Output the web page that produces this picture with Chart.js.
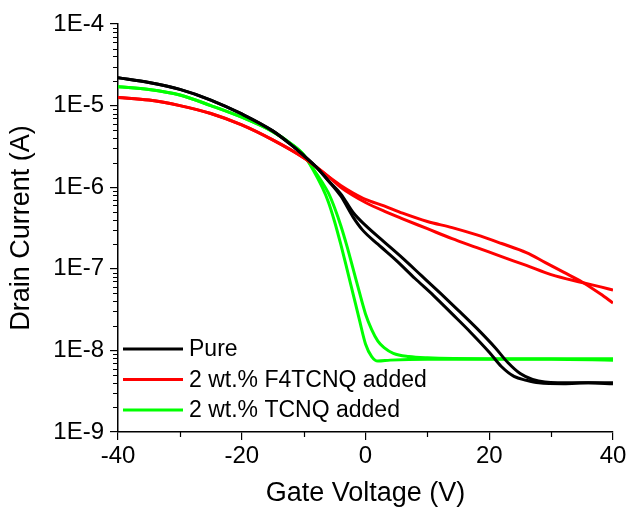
<!DOCTYPE html>
<html>
<head>
<meta charset="utf-8">
<script src="https://cdn.jsdelivr.net/npm/chart.js@4.4.0/dist/chart.umd.min.js"></script>
<style>
  body { margin: 0; background: #fff; }
  #wrap { width: 630px; height: 510px; }
</style>
</head>
<body>
<div id="wrap"><canvas id="ivChart" width="630" height="510"></canvas></div>
<script>
// transfer curves, two sweeps for each film
const pureV_a = [-40, -35, -30, -25, -20, -15, -12, -10, -8, -6, -4, -2, -0.5, 2, 5, 8, 11, 14, 17, 20, 22, 24, 26, 28, 32, 36, 40];
const pureI_a = [2.19e-5, 1.92e-5, 1.58e-5, 1.17e-5, 7.9e-6, 4.9e-6, 3.3e-6, 2.45e-6, 1.78e-6, 1.2e-6, 7.8e-7, 4.3e-7, 3.0e-7, 2.0e-7, 1.26e-7, 7.6e-8, 4.7e-8, 2.8e-8, 1.66e-8, 9.5e-9, 6.3e-9, 4.8e-9, 4.3e-9, 4.0e-9, 3.9e-9, 4.0e-9, 3.9e-9];
const pureV_b = [-40, -35, -30, -25, -20, -15, -12, -10, -8, -6, -4, -2, 0, 3, 6, 9, 12, 15, 18, 21, 23, 25, 27, 29, 34, 40];
const pureI_b = [2.19e-5, 1.92e-5, 1.58e-5, 1.17e-5, 7.9e-6, 4.9e-6, 3.3e-6, 2.45e-6, 1.78e-6, 1.2e-6, 8.3e-7, 4.9e-7, 3.4e-7, 2.14e-7, 1.35e-7, 8.3e-8, 5.1e-8, 3.1e-8, 1.86e-8, 1.07e-8, 7.1e-9, 5.2e-9, 4.4e-9, 4.1e-9, 4.0e-9, 4.0e-9];

const f4V_a = [-40, -35, -30, -25, -20, -15, -10, -8, -6, -4, -2, 0, 3, 6, 10, 14, 18, 22, 26, 29, 32, 35, 38, 40];
const f4I_a = [1.26e-5, 1.17e-5, 1.0e-5, 8.0e-6, 5.8e-6, 3.8e-6, 2.3e-6, 1.78e-6, 1.35e-6, 1.05e-6, 8.5e-7, 7.1e-7, 5.9e-7, 4.8e-7, 3.8e-7, 3.2e-7, 2.6e-7, 2.04e-7, 1.58e-7, 1.2e-7, 9.1e-8, 6.9e-8, 4.9e-8, 3.8e-8];
const f4V_b = [-40, -35, -30, -25, -20, -15, -10, -8, -6, -4, -2, 0, 3, 6, 10, 14, 18, 22, 26, 30, 35, 38, 40];
const f4I_b = [1.26e-5, 1.17e-5, 1.0e-5, 8.0e-6, 5.8e-6, 3.8e-6, 2.3e-6, 1.78e-6, 1.35e-6, 1.0e-6, 7.9e-7, 6.5e-7, 5.1e-7, 4.1e-7, 3.1e-7, 2.34e-7, 1.82e-7, 1.41e-7, 1.1e-7, 8.5e-8, 6.8e-8, 6.0e-8, 5.5e-8];

const tcnqV_a = [-40, -35, -30, -25, -20, -15, -12, -10, -8.5, -7, -6, -5, -4, -3, -2, -1, 0, 1, 2, 4, 10, 20, 30, 40];
const tcnqI_a = [1.7e-5, 1.58e-5, 1.35e-5, 1.0e-5, 7.2e-6, 4.8e-6, 3.4e-6, 2.5e-6, 1.65e-6, 1.0e-6, 6.6e-7, 3.8e-7, 2.0e-7, 1.0e-7, 4.9e-8, 2.4e-8, 1.2e-8, 8.4e-9, 7.4e-9, 7.6e-9, 7.8e-9, 7.8e-9, 7.8e-9, 7.6e-9];
const tcnqV_b = [-40, -35, -30, -25, -20, -15, -12, -10, -8.5, -7, -6, -5, -4, -3, -2, -1, 0, 1, 2, 3, 4.5, 7, 10, 20, 30, 40];
const tcnqI_b = [1.7e-5, 1.58e-5, 1.35e-5, 1.0e-5, 7.2e-6, 4.8e-6, 3.4e-6, 2.5e-6, 1.7e-6, 1.15e-6, 8.5e-7, 5.6e-7, 3.4e-7, 1.9e-7, 1.0e-7, 5.2e-8, 2.8e-8, 1.8e-8, 1.3e-8, 1.08e-8, 9.2e-9, 8.4e-9, 8.1e-9, 7.9e-9, 7.9e-9, 7.9e-9];

const legendLabels = ['Pure', '2 wt.% F4TCNQ added', '2 wt.% TCNQ added'];
const seriesColors = ['#000000', '#ff0000', '#00ff00'];
const xTicks = [-40, -20, 0, 20, 40];
const xMinor = [-30, -10, 10, 30];
const yTicks = [1e-9, 1e-8, 1e-7, 1e-6, 1e-5, 1e-4];

const FONT = 'Arial, "Liberation Sans", sans-serif';

function pts(xs, ys) {
    return xs.map((v, i) => ({ x: v, y: ys[i] }));
}

function sweep(xs, ys, color) {
    return {
        data: pts(xs, ys),
        borderColor: color,
        backgroundColor: color,
        borderWidth: 3,
        pointRadius: 0,
        cubicInterpolationMode: 'monotone',
        fill: false
    };
}

// legend sits inside the plot, bottom left
const insideLegend = {
    id: 'insideLegend',
    afterDraw(chart) {
        const ctx = chart.ctx;
        const area = chart.chartArea;
        ctx.save();
        ctx.font = '23px ' + FONT;
        ctx.textBaseline = 'middle';
        ctx.fillStyle = '#000';
        legendLabels.forEach((label, i) => {
            const y = area.bottom - 83 + i * 30.5;
            ctx.strokeStyle = seriesColors[i];
            ctx.lineWidth = 3;
            ctx.beginPath();
            ctx.moveTo(area.left + 5, y);
            ctx.lineTo(area.left + 65, y);
            ctx.stroke();
            ctx.fillText(label, area.left + 71, y + 1);
        });
        ctx.restore();
    }
};

// small ticks between the labelled ones
const minorTicks = {
    id: 'minorTicks',
    afterDraw(chart) {
        const ctx = chart.ctx;
        const xs = chart.scales.x;
        const ys = chart.scales.y;
        ctx.save();
        ctx.strokeStyle = '#000';
        ctx.lineWidth = 1.2;
        ctx.beginPath();
        for (let d = -9; d < -4; d++) {
            for (let m = 2; m <= 9; m++) {
                const py = Math.round(ys.getPixelForValue(m * Math.pow(10, d))) + 0.5;
                ctx.moveTo(ys.right - 5, py);
                ctx.lineTo(ys.right, py);
            }
        }
        xMinor.forEach(v => {
            const px = Math.round(xs.getPixelForValue(v)) + 0.5;
            ctx.moveTo(px, xs.top);
            ctx.lineTo(px, xs.top + 5);
        });
        ctx.stroke();
        ctx.restore();
    }
};

new Chart(document.getElementById('ivChart'), {
    type: 'line',
    data: {
        datasets: [
            sweep(pureV_a, pureI_a, seriesColors[0]),
            sweep(pureV_b, pureI_b, seriesColors[0]),
            sweep(f4V_a, f4I_a, seriesColors[1]),
            sweep(f4V_b, f4I_b, seriesColors[1]),
            sweep(tcnqV_a, tcnqI_a, seriesColors[2]),
            sweep(tcnqV_b, tcnqI_b, seriesColors[2])
        ]
    },
    options: {
        responsive: false,
        animation: false,
        devicePixelRatio: 1,
        layout: { padding: { top: 24, right: 17, left: 0, bottom: 0 } },
        plugins: {
            legend: { display: false },
            tooltip: { enabled: false }
        },
        scales: {
            x: {
                type: 'linear',
                min: -40,
                max: 40,
                afterBuildTicks: scale => { scale.ticks = xTicks.map(v => ({ value: v })); },
                afterFit: scale => { scale.height = 78; },
                ticks: { font: { size: 24, family: FONT }, color: '#000', padding: 2, maxRotation: 0 },
                grid: { drawOnChartArea: false, drawTicks: true, tickLength: 8, color: '#000', lineWidth: 1.2 },
                border: { display: true, color: '#000', width: 1.5 },
                title: { display: true, text: 'Gate Voltage (V)', font: { size: 27, family: FONT }, color: '#000', padding: { top: 0, bottom: 0 } }
            },
            y: {
                type: 'logarithmic',
                min: 1e-9,
                max: 1e-4,
                afterBuildTicks: scale => { scale.ticks = yTicks.map(v => ({ value: v })); },
                afterFit: scale => { scale.width = 118; },
                ticks: {
                    font: { size: 24, family: FONT },
                    color: '#000',
                    padding: 6,
                    callback: v => '1E' + Math.round(Math.log10(v))
                },
                grid: { drawOnChartArea: false, drawTicks: true, tickLength: 8, color: '#000', lineWidth: 1.2 },
                border: { display: true, color: '#000', width: 1.5 },
                title: { display: true, text: 'Drain Current (A)', font: { size: 27, family: FONT }, color: '#000', padding: { top: 5, bottom: 0 } }
            }
        }
    },
    plugins: [insideLegend, minorTicks]
});
</script>
</body>
</html>
